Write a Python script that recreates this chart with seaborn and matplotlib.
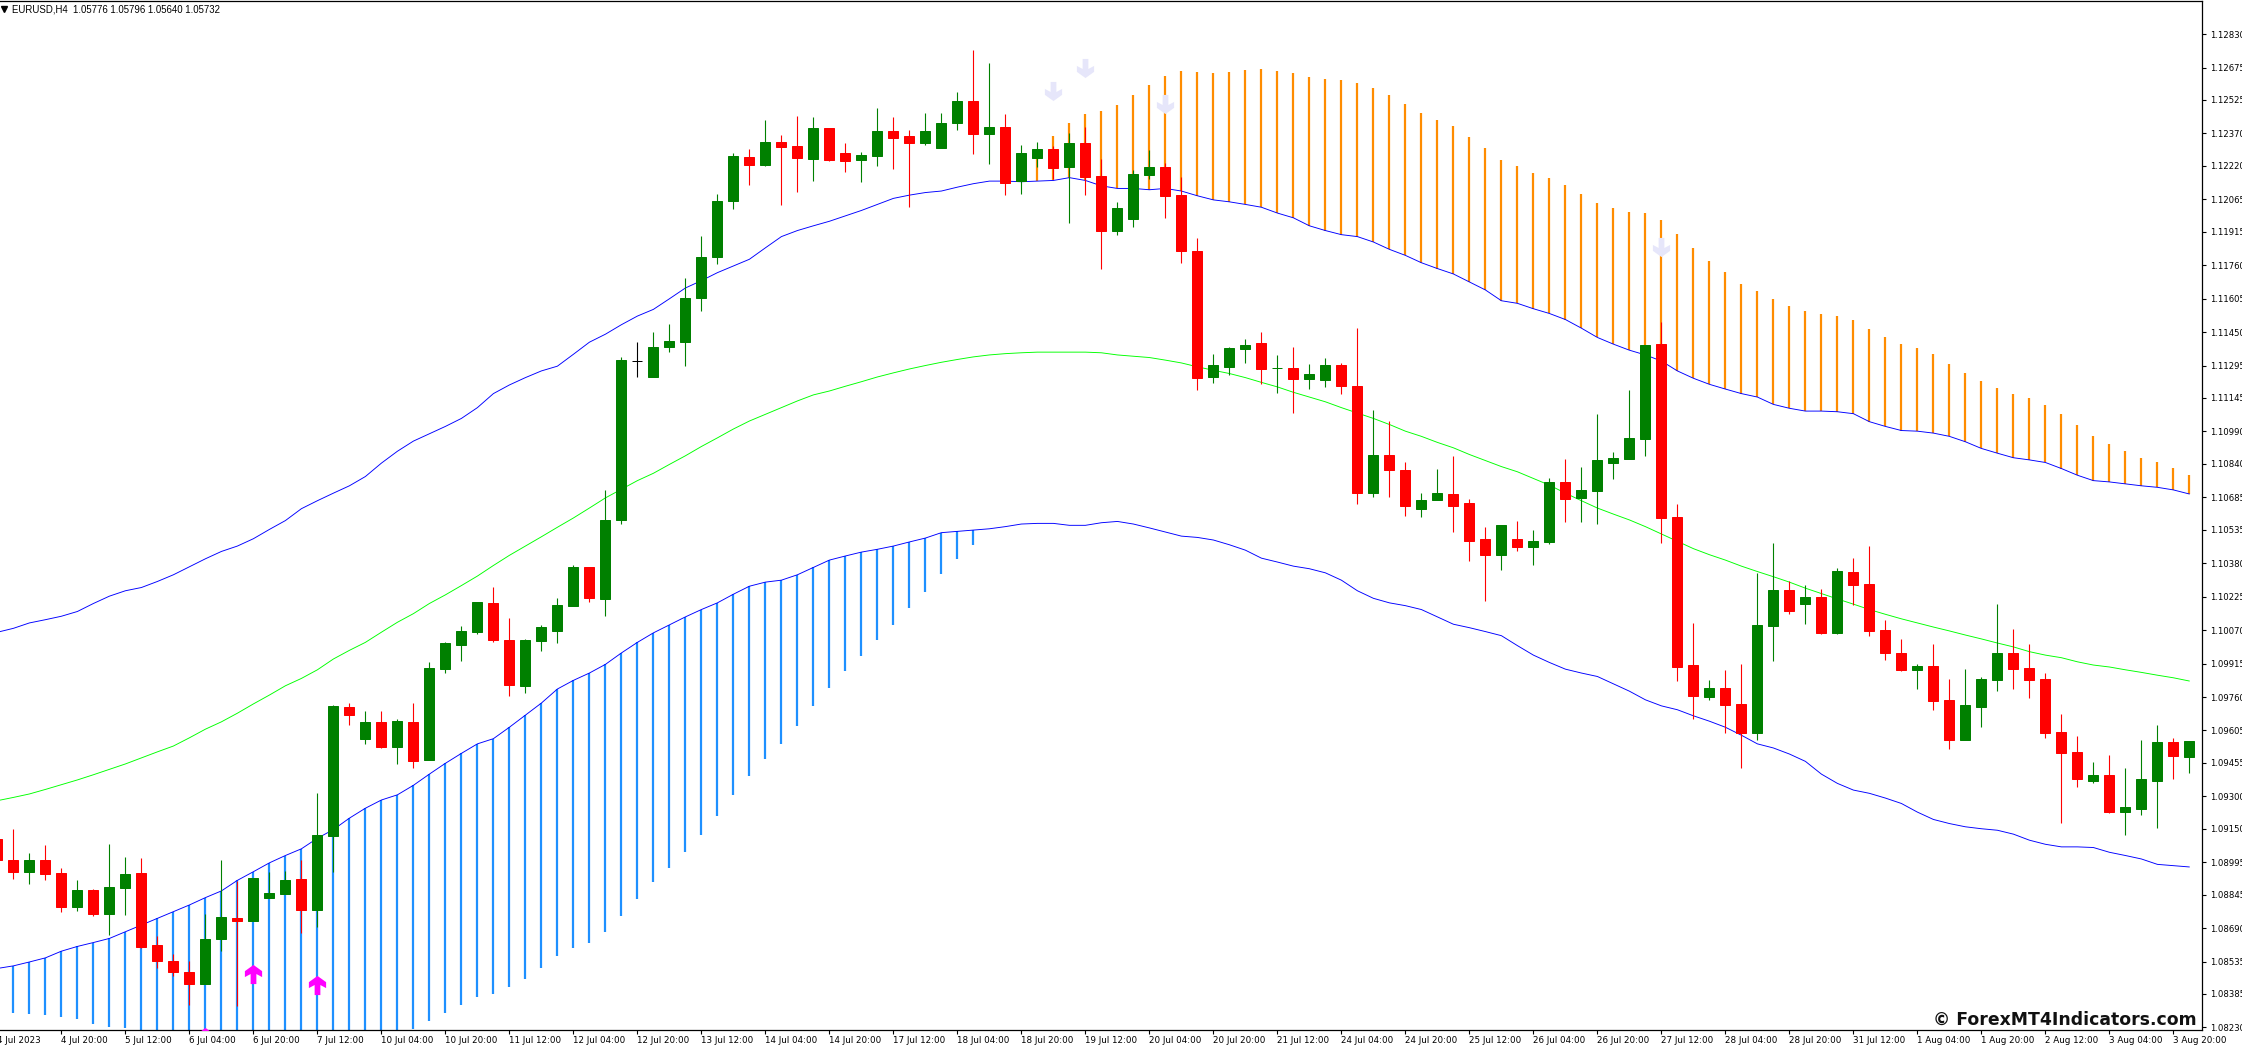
import numpy as np
import pandas as pd
import seaborn as sns
import matplotlib
matplotlib.use("Agg")
import matplotlib.pyplot as plt
from matplotlib.path import Path

# All prices are in MT4 points (1e-5 of the quote)
opens = [109101,109005,108949,109005,108945,108788,108865,108753,108874,108945,
 108611,108537,108487,108431,108639,108735,108722,108828,108846,108917,
 108772,109116,109713,109564,109645,109527,109645,109468,109890,110001,
 110060,110196,110022,109812,110019,110066,110180,110363,110214,110580,
 111316,111242,111381,111403,111607,111796,112056,112261,112223,112332,
 112313,112251,112394,112279,112248,112267,112381,112360,112326,112304,
 112418,112521,112369,112400,112149,112257,112298,112214,112326,112174,
 111917,111973,112177,112214,112084,111824,111242,111289,111372,111400,
 111282,111282,111233,111227,111298,111199,110704,110880,110812,110629,
 110673,110700,110657,110493,110419,110493,110456,110478,110756,110682,
 110713,110843,110861,110954,111394,110592,109908,109759,109803,109728,
 109592,110087,110255,110190,110224,110057,110338,110282,110069,109964,
 109886,109905,109747,109561,109713,109840,109964,109896,109843,109598,
 109506,109369,109397,109227,109243,109369,109552,109481]
highs = [109181,109150,109039,109076,108970,108911,108871,109079,109020,109014,
 108654,108570,108537,108753,109005,108908,108921,108949,108955,109005,
 109317,109725,109732,109695,109695,109657,109732,109924,110013,110087,
 110199,110270,110125,110029,110094,110217,110372,110363,110719,111335,
 111403,111450,111487,111700,111895,112090,112279,112298,112431,112363,
 112449,112446,112394,112326,112282,112487,112446,112384,112465,112465,
 112561,112756,112697,112459,112316,112332,112313,112372,112400,112251,
 112053,112202,112295,112233,112168,111886,111347,111381,111419,111450,
 111344,111381,111301,111329,111307,111468,111090,111038,110849,110704,
 110815,110874,110676,110549,110558,110573,110533,110775,110861,110824,
 111072,110895,111180,111391,111496,110654,110103,109840,109886,109914,
 110335,110474,110298,110279,110261,110357,110403,110459,110115,110029,
 109914,110004,109843,109889,109852,110190,110075,110004,109871,109682,
 109580,109459,109490,109431,109561,109629,109571,109555]
lows = [108995,108918,108893,108911,108763,108769,108744,108657,108750,108598,
 108506,108469,108333,108431,108583,108329,108722,108828,108846,108667,
 108695,108949,109630,109543,109524,109450,109431,109468,109871,109927,
 110050,110013,109766,109778,109973,110010,110180,110199,110134,110561,
 111242,111242,111357,111292,111549,111765,112019,112131,112220,112038,
 112100,112149,112242,112192,112146,112220,112205,112028,112316,112304,
 112384,112276,112230,112084,112090,112214,112158,111954,112084,111744,
 111898,111935,112158,111979,111771,111180,111214,111251,111307,111208,
 111168,111075,111186,111196,111165,110654,110685,110685,110598,110592,
 110673,110524,110391,110205,110348,110437,110372,110468,110570,110570,
 110561,110768,110861,110877,110474,109834,109657,109744,109592,109431,
 109561,109927,110143,110097,110050,110050,110187,110041,109933,109880,
 109797,109701,109518,109561,109620,109787,109797,109756,109571,109177,
 109345,109363,109224,109122,109215,109153,109379,109406]
closes = [109005,108949,109005,108939,108788,108865,108753,108880,108939,108601,
 108537,108487,108431,108639,108741,108722,108921,108852,108911,108772,
 109122,109720,109676,109645,109527,109648,109462,109896,110010,110066,
 110199,110022,109815,110022,110084,110187,110363,110217,110580,111320,
 111316,111381,111409,111607,111796,112056,112267,112223,112332,112307,
 112257,112394,112248,112242,112270,112381,112350,112326,112381,112418,
 112521,112369,112400,112140,112279,112298,112211,112326,112168,111917,
 112025,112183,112214,112081,111824,111236,111298,111375,111391,111279,
 111285,111233,111254,111298,111199,110704,110880,110812,110645,110673,
 110704,110645,110484,110419,110558,110453,110484,110756,110676,110719,
 110858,110868,110960,111391,110589,109899,109766,109803,109722,109592,
 110094,110255,110159,110224,110057,110344,110279,110066,109964,109886,
 109905,109741,109561,109722,109843,109964,109889,109840,109592,109499,
 109379,109397,109227,109252,109379,109552,109487,109555]

upper = [110060,110078,110103,110118,110134,110156,110193,110227,110252,110267,
 110295,110326,110363,110400,110434,110459,110493,110536,110577,110632,
 110669,110704,110738,110781,110843,110898,110945,110979,111013,111050,
 111100,111165,111205,111239,111270,111292,111347,111403,111440,111484,
 111524,111555,111604,111654,111688,111725,111756,111787,111840,111892,
 111920,111942,111963,111988,112013,112041,112069,112084,112096,112103,
 112121,112137,112149,112149,112146,112149,112152,112165,112152,112127,
 112115,112115,112109,112115,112103,112081,112062,112053,112041,112028,
 112001,111979,111942,111920,111901,111892,111867,111833,111805,111771,
 111744,111719,111682,111645,111595,111583,111558,111536,111508,111468,
 111425,111394,111366,111344,111316,111270,111236,111208,111186,111165,
 111149,111115,111097,111084,111084,111081,111072,111035,111013,110994,
 110991,110982,110967,110942,110911,110889,110868,110858,110846,110818,
 110787,110762,110756,110747,110738,110731,110719,110700]
middle = [109280,109295,109311,109332,109354,109376,109400,109425,109450,109478,
 109506,109533,109571,109611,109645,109685,109728,109769,109812,109846,
 109886,109936,109976,110013,110060,110106,110146,110193,110233,110276,
 110320,110369,110416,110459,110502,110546,110589,110635,110682,110722,
 110762,110796,110837,110877,110920,110960,111001,111038,111069,111100,
 111131,111159,111177,111199,111220,111242,111261,111279,111295,111310,
 111323,111335,111344,111350,111354,111357,111357,111357,111357,111354,
 111344,111338,111332,111320,111307,111289,111273,111258,111239,111217,
 111196,111171,111149,111127,111100,111075,111050,111022,110991,110967,
 110939,110914,110883,110855,110827,110803,110772,110741,110704,110669,
 110635,110607,110580,110549,110515,110481,110447,110419,110394,110366,
 110341,110317,110292,110264,110239,110214,110190,110165,110143,110122,
 110103,110084,110066,110047,110029,110010,109992,109970,109954,109942,
 109923,109908,109899,109886,109874,109861,109849,109834]
lower = [108503,108515,108533,108552,108583,108605,108623,108642,108673,108704,
 108735,108766,108797,108831,108862,108911,108951,108992,109026,109057,
 109106,109146,109199,109245,109283,109307,109351,109403,109453,109499,
 109543,109567,109620,109676,109732,109797,109837,109871,109911,109964,
 110013,110057,110094,110131,110165,110196,110236,110273,110292,110301,
 110326,110360,110394,110413,110431,110444,110459,110478,110496,110521,
 110527,110533,110539,110549,110561,110564,110564,110555,110555,110567,
 110573,110561,110543,110524,110505,110499,110487,110465,110440,110403,
 110385,110366,110354,110335,110301,110252,110217,110196,110183,110165,
 110131,110097,110081,110063,110044,109998,109954,109920,109889,109871,
 109855,109821,109787,109747,109719,109701,109673,109648,109620,109583,
 109543,109524,109496,109462,109403,109360,109329,109314,109292,109267,
 109227,109193,109174,109159,109150,109143,109125,109097,109078,109066,
 109066,109063,109041,109026,109010,108985,108979,108973]

# histogram ends: blue bars for bars 1..61, orange bars for bars 65..137
blue_ends = [108298,108293,108287,108279,108270,108247,108233,108227,108200,108200,
 108200,108200,108200,108200,108200,108200,108200,108200,108200,108200,
 108200,108200,108200,108200,108200,108223,108260,108298,108334,108372,
 108386,108416,108453,108506,108561,108598,108620,108673,108744,108825,
 108902,108967,109041,109122,109208,109307,109394,109472,109543,109626,
 109719,109803,109880,109951,110022,110094,110171,110245,110329,110400,
 110465]
orange_ends = [112291,112360,112418,112459,112474,112502,112548,112595,112635,112660,
 112654,112651,112654,112663,112669,112660,112651,112632,112623,112617,
 112604,112579,112548,112505,112465,112431,112403,112353,112304,112248,
 112220,112186,112165,112131,112090,112047,112025,112007,112001,111970,
 111905,111840,111778,111728,111672,111641,111604,111570,111549,111533,
 111524,111505,111465,111428,111394,111375,111347,111301,111261,111224,
 111190,111165,111146,111112,111072,111019,110970,110933,110898,110868,
 110849,110821,110787]

buy_bars = [13, 16, 20]
buy_prices = [108184, 108478, 108425]
sell_bars = [66, 68, 73, 104]
sell_prices = [112564, 112672, 112505, 111846]

price_labels = ["1.12830","1.12675","1.12525","1.12370","1.12220","1.12065","1.11915","1.11760",
 "1.11605","1.11450","1.11295","1.11145","1.10990","1.10840","1.10685","1.10535","1.10380",
 "1.10225","1.10070","1.09915","1.09760","1.09605","1.09455","1.09300","1.09150","1.08995",
 "1.08845","1.08690","1.08535","1.08385","1.08230"]
time_labels = ["4 Jul 2023","4 Jul 20:00","5 Jul 12:00","6 Jul 04:00","6 Jul 20:00","7 Jul 12:00",
 "10 Jul 04:00","10 Jul 20:00","11 Jul 12:00","12 Jul 04:00","12 Jul 20:00","13 Jul 12:00",
 "14 Jul 04:00","14 Jul 20:00","17 Jul 12:00","18 Jul 04:00","18 Jul 20:00","19 Jul 12:00",
 "20 Jul 04:00","20 Jul 20:00","21 Jul 12:00","24 Jul 04:00","24 Jul 20:00","25 Jul 12:00",
 "26 Jul 04:00","26 Jul 20:00","27 Jul 12:00","28 Jul 04:00","28 Jul 20:00","31 Jul 12:00",
 "1 Aug 04:00","1 Aug 20:00","2 Aug 12:00","3 Aug 04:00","3 Aug 20:00"]
header = "EURUSD,H4  1.05776 1.05796 1.05640 1.05732"
watermark = "\u00a9 ForexMT4Indicators.com"

GREEN, RED, BLUE, LIME = "#008000", "#FF0000", "#0000FF", "#00FF00"
DODGER, ORANGE, MAGENTA, LAVENDER = "#1E90FF", "#FF8C00", "#FF00FF", "#E6E6FA"

sns.set_theme(style="white")
plt.rcParams["font.family"] = ["DejaVu Sans"]

W, H = 2242, 1048
fig = plt.figure(figsize=(W / 100, H / 100), dpi=100, facecolor="white")
ax = fig.add_axes([0, 1 - 1030 / H, 2202 / W, 1029 / H])

P = 1e5
o, h, l, c = (np.array(a) / P for a in (opens, highs, lows, closes))
idx = np.arange(len(o))
up, mid, lo = (np.array(a) / P for a in (upper, middle, lower))

blue_idx = np.arange(1, 1 + len(blue_ends))
orange_idx = np.arange(65, 65 + len(orange_ends))
ax.vlines(blue_idx, np.array(blue_ends) / P, lo[blue_idx], color=DODGER, lw=1.6, zorder=1)
ax.vlines(orange_idx, up[orange_idx], np.array(orange_ends) / P, color=ORANGE, lw=1.6, zorder=1)

bands = pd.DataFrame({"bar": idx, "upper": up, "middle": mid, "lower": lo})
for col, colr in (("upper", BLUE), ("middle", LIME), ("lower", BLUE)):
    sns.lineplot(data=bands, x="bar", y=col, color=colr, lw=0.66, ax=ax, zorder=2, estimator=None)

colors = np.where(c > o, GREEN, np.where(c < o, RED, "#000000"))
ax.vlines(idx, l, h, colors=colors, lw=0.8, zorder=3)
bw = 10 / 16
ax.bar(idx, np.abs(c - o), bottom=np.minimum(c, o), width=bw, color=colors,
       edgecolor=colors, linewidth=0.72, zorder=4)

up_arrow = Path(np.array([(0, 1), (.9, .35), (.9, -.27), (.3, .05), (.3, -1), (-.3, -1),
                          (-.3, .05), (-.9, -.27), (-.9, .35), (0, 1)], float), closed=True)
down_arrow = Path(up_arrow.vertices * [1, -1], closed=True)
sns.scatterplot(x=buy_bars, y=np.array(buy_prices) / P, marker=up_arrow, s=190, color=MAGENTA,
                linewidth=0, ax=ax, zorder=6)
sns.scatterplot(x=sell_bars, y=np.array(sell_prices) / P, marker=down_arrow, s=190, color=LAVENDER,
                linewidth=0, ax=ax, zorder=6)

ax.set_xlabel("")
ax.set_ylabel("")

ax.yaxis.tick_right()
ax.set_yticks([float(s) for s in price_labels])
ax.set_yticklabels(price_labels)
ax.set_xticks(np.arange(4, 4 * len(time_labels), 4))
ax.set_xticklabels(time_labels[1:], ha="left")
# the first date sits on a tick just left of the window, so it is placed by itself
ax.annotate(time_labels[0], xy=(0, 0), xycoords=ax.get_xaxis_transform(), xytext=(0, -4.5),
            textcoords="offset points", ha="left", va="top", fontsize=6.3, color="black",
            annotation_clip=False)
# pixel-aligned window onto the bars
ax.set_xlim((0 + 2.6) / 16, (2202 + 2.6) / 16)
ax.set_ylim(1.08218, 1.12983)
ax.tick_params(axis="y", length=3, width=0.8, pad=2.5, labelsize=6.1, color="black",
               labelcolor="black", direction="out", right=True, left=False)
ax.tick_params(axis="x", length=3, width=0.8, pad=1.5, labelsize=6.3, color="black",
               labelcolor="black", direction="out", bottom=True)
for s in ("top", "right", "bottom"):
    ax.spines[s].set_color("black")
    ax.spines[s].set_linewidth(0.9)
    ax.spines[s].set_visible(True)
ax.spines["left"].set_visible(False)

ax.plot([3.5 / 2202], [1 - 8 / 1029], marker="v", ms=4.2, color="black", transform=ax.transAxes,
        clip_on=False, zorder=7, ls="none")
fig.text(12 / W, 1 - 9 / H, header, fontsize=6.9, family="Liberation Sans", color="black",
         va="center", ha="left")
fig.text(2197 / W, 1 - 1020 / H, watermark, fontsize=12.4, fontweight="bold", color="#111111",
         va="center", ha="right")

fig.savefig("out.png", dpi=100, facecolor="white")
